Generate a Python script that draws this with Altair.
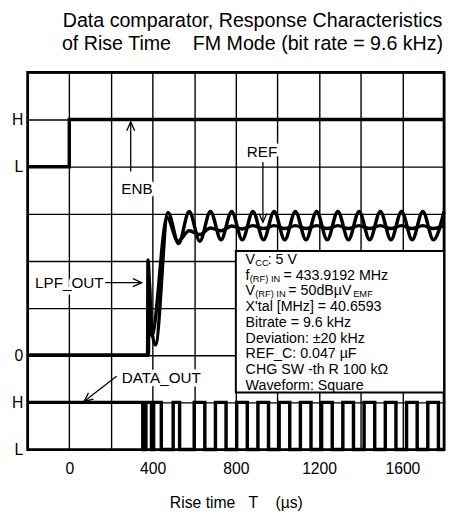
import json
import altair as alt
import pandas as pd

FONT = "Liberation Sans"

# ---------------- data (x: time in µs, y: grid divisions 0..8) ----------------
enb_t = [-200, 0, 1800]
enb_v = [6, 7, 7]

data_out_t = [-200, 353, 368, 395, 405, 442, 499, 530, 600, 651, 702, 753, 804, 855,
              906, 957, 1008, 1059, 1110, 1161, 1212, 1263, 1314, 1365, 1416, 1467,
              1518, 1569, 1620, 1671, 1722, 1773, 1800]
data_out_v = [1, 0, 1, 0, 1, 0, 1, 0, 1, 0, 1, 0, 1, 0,
              1, 0, 1, 0, 1, 0, 1, 0, 1, 0, 1, 0,
              1, 0, 1, 0, 1, 0, 0]

lpf_t = [-200, 376, 378, 392, 414, 474, 525, 576, 627, 678, 729, 780, 831, 882, 933,
         984, 1035, 1086, 1137, 1188, 1239, 1290, 1341, 1392, 1443, 1494, 1545, 1596,
         1647, 1698, 1749, 1800]
lpf_v = [2, 2, 4.02, 2.7, 2.22, 5.03, 4.37, 5.05, 4.42, 5.05, 4.45, 5.05, 4.45, 5.05, 4.45,
         5.05, 4.45, 5.05, 4.45, 5.05, 4.45, 5.05, 4.45, 5.05, 4.45, 5.05, 4.45, 5.05,
         4.45, 5.05, 4.45, 5.05]

ref_t = [-200, 380, 383, 396, 470, 522, 576, 627, 678, 729, 780, 831, 882, 933, 984,
         1035, 1086, 1137, 1188, 1239, 1290, 1341, 1392, 1443, 1494, 1545, 1596, 1647,
         1698, 1749, 1800]
ref_v = [2, 2, 3.6, 2.42, 4.92, 4.42, 4.64, 4.56, 4.7, 4.64, 4.74, 4.68, 4.75, 4.69, 4.75,
         4.69, 4.75, 4.69, 4.75, 4.69, 4.75, 4.69, 4.75, 4.69, 4.75, 4.69, 4.75, 4.69,
         4.75, 4.69, 4.75]

x_grid_values = list(range(-200, 1801, 200))
x_label_values = [0, 400, 800, 1200, 1600]
y_tick_values = [0, 1, 2, 3, 4, 5, 6, 7, 8]
y_tick_labels = ["L", "H", "0", "", "", "", "L", "H", ""]

title_lines = ["Data comparator, Response Characteristics",
               "of Rise Time\u00a0\u00a0\u00a0\u00a0FM Mode (bit rate = 9.6 kHz)"]
x_title = "Rise time\u00a0\u00a0\u00a0T\u00a0\u00a0\u00a0\u00a0(µs)"

trace_labels = ["ENB", "REF", "LPF_OUT", "DATA_OUT"]
trace_label_t = [325, 926, 0, 442]
trace_label_v = [5.52, 6.31, 3.54, 1.52]

# arrows: shaft start -> tip
arrow_t = [295, 930, 173, 227]
arrow_v = [5.9, 6.1, 3.54, 1.556]
arrow_t2 = [295, 930, 348, 70.6]
arrow_v2 = [6.95, 4.82, 3.54, 1.02]
arrow_angle = [0, 180, 90, 232]

# conditions box: each line is a list of (text, is_subscript)
box_lines = [
    [("V", False), ("CC", True), (": 5 V", False)],
    [("f", False), ("(RF) IN", True), ("= 433.9192 MHz", False)],
    [("V", False), ("(RF) IN", True), ("= 50dBµV", False), ("EMF", True)],
    [("X'tal [MHz] = 40.6593", False)],
    [("Bitrate = 9.6 kHz", False)],
    [("Deviation: ±20 kHz", False)],
    [("REF_C: 0.047 µF", False)],
    [("CHG SW -th R 100 kΩ", False)],
    [("Waveform: Square", False)],
]
box_segment_dx = [
    [0, 9.7, 22.5],
    [0, 4.2, 38.5],
    [0, 9.7, 43.5, 109.5],
    [0], [0], [0], [0], [0], [0],
]

# ---------------- scales / axes ----------------
xs = alt.Scale(domain=[-200, 1800], nice=False, zero=False)
ys = alt.Scale(domain=[0, 8], nice=False, zero=False)

x_expr = "indexof(%s, datum.value) >= 0 ? format(datum.value, 'd') : ''" % json.dumps(x_label_values)
y_expr = "''"
for val, lab in zip(y_tick_values, y_tick_labels):
    y_expr = "datum.value == %s ? '%s' : (%s)" % (val, lab, y_expr)

common_axis = dict(grid=True, ticks=False, domain=False, gridColor="black", gridWidth=1.4,
                   gridOpacity=1, labelFont=FONT, labelFontSize=16, labelColor="black",
                   labelOverlap=False, labelFlush=False)
xaxis = alt.Axis(values=x_grid_values, labelExpr=x_expr, labelPadding=11,
                 titleFont=FONT, titleFontSize=16, titleFontWeight="normal",
                 titleColor="black", titlePadding=19, **common_axis)
yaxis = alt.Axis(values=y_tick_values, labelExpr=y_expr, labelPadding=5, **common_axis)

X = alt.X("t:Q", scale=xs, axis=xaxis, title=x_title)
Y = alt.Y("v:Q", scale=ys, axis=yaxis, title=None)


def frame(t, v):
    return pd.DataFrame({"t": t, "v": v})


layers = []

# conditions box
box_df = pd.DataFrame({"t": [800], "t2": [1800], "v": [1.21], "v2": [4.21]})
layers.append(alt.Chart(box_df).mark_rect(fill="white", stroke="black", strokeWidth=2)
              .encode(x=X, x2="t2:Q", y=Y, y2="v2:Q"))

# traces
LW = 3.5
layers.append(alt.Chart(frame(enb_t, enb_v)).mark_line(color="black", strokeWidth=LW,
              interpolate="step-after").encode(x=X, y=Y))
layers.append(alt.Chart(frame(data_out_t, data_out_v)).mark_line(color="black", strokeWidth=LW,
              interpolate="step-after").encode(x=X, y=Y))
layers.append(alt.Chart(frame(ref_t, ref_v)).mark_line(color="black", strokeWidth=LW,
              interpolate="monotone").encode(x=X, y=Y))
layers.append(alt.Chart(frame(lpf_t, lpf_v)).mark_line(color="black", strokeWidth=LW,
              interpolate="monotone").encode(x=X, y=Y))

# trace labels (with white halo that cuts grid lines)
lab_df = pd.DataFrame({"t": trace_label_t, "v": trace_label_v, "txt": trace_labels})
layers.append(alt.Chart(lab_df).mark_text(font=FONT, fontSize=15.5, fill="white", stroke="white",
              strokeWidth=7, strokeJoin="round", baseline="middle")
              .encode(x=X, y=Y, text="txt:N"))
layers.append(alt.Chart(lab_df).mark_text(font=FONT, fontSize=15.5, color="black", baseline="middle")
              .encode(x=X, y=Y, text="txt:N"))

# arrows
arr_df = pd.DataFrame({"t": arrow_t, "v": arrow_v, "t2": arrow_t2, "v2": arrow_v2})
layers.append(alt.Chart(arr_df).mark_rule(color="black", strokeWidth=1.3)
              .encode(x=X, y=Y, x2="t2:Q", y2="v2:Q"))
head_df = pd.DataFrame({"t": arrow_t2, "v": arrow_v2, "ang": arrow_angle})
layers.append(alt.Chart(head_df).mark_point(shape="M-0.45,1L0,0L0.45,1", filled=False, size=324,
              color="black", strokeWidth=1.3, opacity=1)
              .encode(x=X, y=Y, angle=alt.Angle("ang:Q", scale=None)))

# box text
box_t0 = 847
box_v0 = 4.02
box_step = 1 / 3
for i, (segs, dxs) in enumerate(zip(box_lines, box_segment_dx)):
    for (txt, sub), dx in zip(segs, dxs):
        seg_df = pd.DataFrame({"t": [box_t0], "v": [box_v0 - i * box_step], "txt": [txt]})
        layers.append(alt.Chart(seg_df).mark_text(
            font=FONT, fontSize=9.5 if sub else 14.5, color="black", align="left",
            baseline="middle", dx=dx, dy=3 if sub else 0)
            .encode(x=X, y=Y, text="txt:N"))

chart = alt.layer(*layers).properties(
    width=424, height=384,
    padding={"left": 20, "top": 61, "right": 2, "bottom": 58},
    autosize=alt.AutoSizeParams(type="none"),
    title=alt.TitleParams(text=title_lines, font=FONT, fontSize=20, fontWeight="normal",
                          color="black", anchor="middle", offset=11, lineHeight=23, dx=17),
    background="white",
).configure_view(stroke="black", strokeWidth=2.8)

chart.save("out.html", embed_options={"renderer": "svg", "actions": False})
